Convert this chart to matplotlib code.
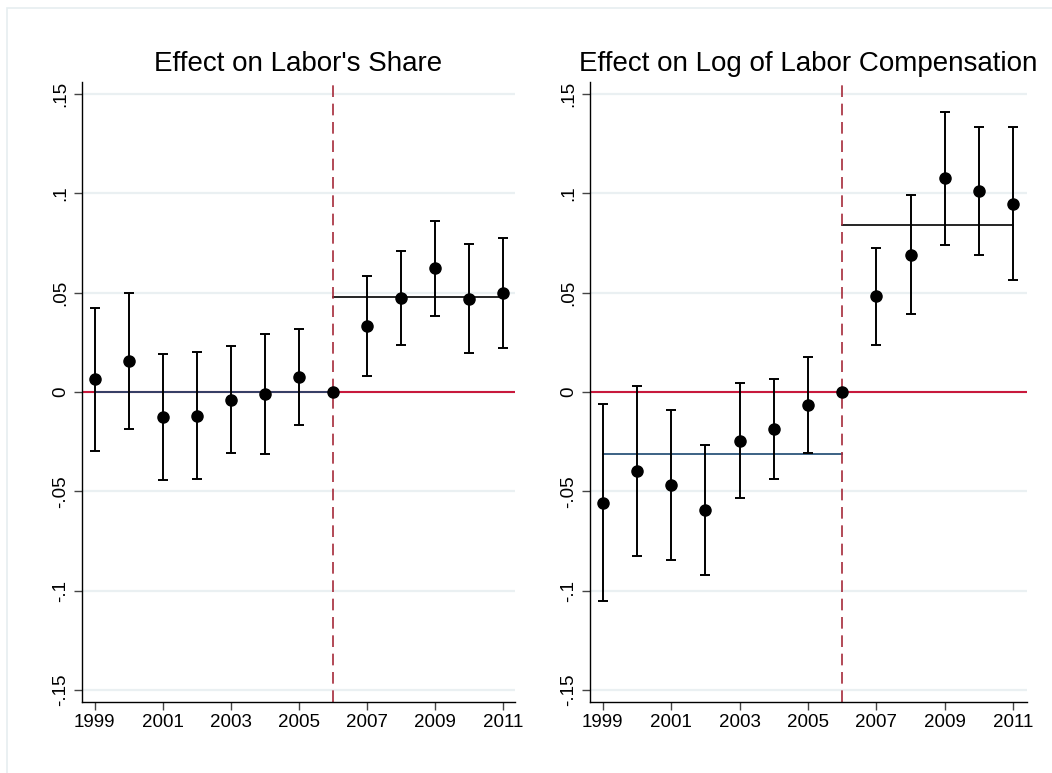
import matplotlib
matplotlib.use('Agg')
import matplotlib.pyplot as plt
from matplotlib.patches import Rectangle

plt.rcParams['font.family'] = ['Liberation Sans', 'DejaVu Sans']

years = [1999, 2000, 2001, 2002, 2003, 2004, 2005, 2006, 2007, 2008, 2009, 2010, 2011]

# labor's share: point estimates and 95% bounds
share_est = [0.0065, 0.0158, -0.0124, -0.0121, -0.0040, -0.0010, 0.0075, 0.0,
             0.0332, 0.0473, 0.0623, 0.0470, 0.0499]
share_hi = [0.0424, 0.0500, 0.0190, 0.0201, 0.0230, 0.0292, 0.0319, 0.0,
            0.0583, 0.0710, 0.0863, 0.0747, 0.0775]
share_lo = [-0.0295, -0.0188, -0.0441, -0.0437, -0.0306, -0.0311, -0.0165, 0.0,
            0.0082, 0.0237, 0.0384, 0.0198, 0.0222]
share_pre_mean = 0.0
share_post_mean = 0.048

# log labor compensation
comp_est = [-0.0557, -0.0398, -0.0467, -0.0594, -0.0245, -0.0186, -0.0065, 0.0,
            0.0482, 0.0691, 0.1076, 0.1012, 0.0948]
comp_hi = [-0.0060, 0.0030, -0.0089, -0.0265, 0.0044, 0.0067, 0.0178, 0.0,
           0.0726, 0.0992, 0.1411, 0.1334, 0.1333]
comp_lo = [-0.1051, -0.0824, -0.0844, -0.0920, -0.0532, -0.0438, -0.0307, 0.0,
           0.0238, 0.0394, 0.0742, 0.0691, 0.0565]
comp_pre_mean = -0.0314
comp_post_mean = 0.0842

titles = ["Effect on Labor's Share", "Effect on Log of Labor Compensation"]
event_year = 2006
xticks = [1999, 2001, 2003, 2005, 2007, 2009, 2011]
yticks = [-0.15, -0.1, -0.05, 0, 0.05, 0.1, 0.15]
ytick_labels = ['-.15', '-.1', '-.05', '0', '.05', '.1', '.15']

fig = plt.figure(figsize=(10.52, 7.73), dpi=100)
fig.patches.append(Rectangle((7 / 1052, -0.1), 1.2, 1 - 8 / 773 + 0.1,
                             transform=fig.transFigure, fill=False,
                             edgecolor='#e6eef0', lw=1.2))

ax1 = fig.add_axes([0.0779, 0.0918, 0.4116, 0.8021])
ax2 = fig.add_axes([0.5608, 0.0918, 0.4154, 0.8021])
panels = [
    (ax1, share_est, share_lo, share_hi, share_pre_mean, share_post_mean, titles[0], 2011.35),
    (ax2, comp_est, comp_lo, comp_hi, comp_pre_mean, comp_post_mean, titles[1], 2011.4),
]

for ax, est, lo, hi, pre, post, title, xmax in panels:
    for v in yticks:
        ax.axhline(v, color='#eaf0f2', lw=1.6, zorder=0)
    ax.axhline(0, color='#c8193c', lw=1.5, zorder=1)
    pre_years = [y for y in years if y <= event_year]
    post_years = [y for y in years if y >= event_year]
    ax.plot([pre_years[0], pre_years[-1]], [pre, pre], color='#1a476f', lw=1.2, zorder=2)
    ax.plot([post_years[0], post_years[-1]], [post, post], color='black', lw=1.2, zorder=2)
    ax.axvline(event_year, color='#a52a3a', lw=1.2, linestyle=(0, (7, 4)), zorder=2)

    ci_years = [y for y in years if y != event_year]
    ci_est = [e for y, e in zip(years, est) if y != event_year]
    err_lo = [e - l for y, e, l in zip(years, est, lo) if y != event_year]
    err_hi = [h - e for y, e, h in zip(years, est, hi) if y != event_year]
    ax.errorbar(ci_years, ci_est, yerr=[err_lo, err_hi], fmt='none',
                ecolor='black', elinewidth=1.4, capsize=3.6, capthick=1.4, zorder=3)
    ax.plot(years, est, 'o', color='black', markersize=8, zorder=4)

    ax.set_xlim(1998.63, xmax)
    ax.set_ylim(-0.156, 0.156)
    ax.set_xticks(xticks)
    ax.set_xticklabels([str(x) for x in xticks], fontsize=13.5)
    ax.set_yticks(yticks)
    ax.set_yticklabels(ytick_labels, fontsize=13.5, rotation=90, va='center')
    ax.tick_params(axis='both', direction='out', length=5.5, width=1, color='#444444')
    ax.tick_params(axis='y', pad=4)
    ax.tick_params(axis='x', pad=3)
    for side in ['top', 'right']:
        ax.spines[side].set_visible(False)
    for side in ['left', 'bottom']:
        ax.spines[side].set_linewidth(1.0)
        ax.spines[side].set_color('black')
    ax.set_title(title, fontsize=20, pad=8)

fig.savefig('out.png', dpi=100)
